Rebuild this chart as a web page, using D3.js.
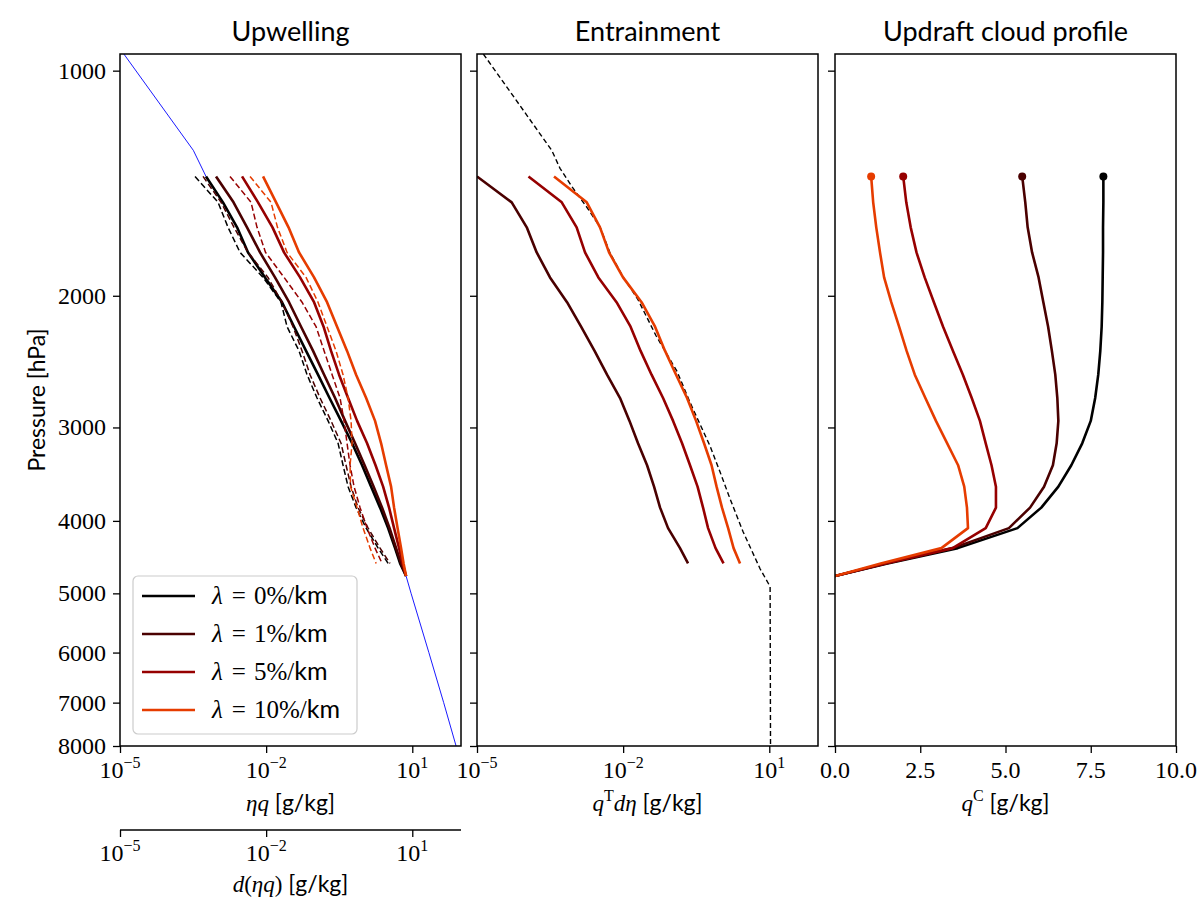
<!DOCTYPE html>
<html>
<head>
<meta charset="utf-8">
<script src="https://cdn.jsdelivr.net/npm/d3@7"></script>
<style>
  body { margin: 0; background: #fff; }
  text { white-space: pre; }
</style>
</head>
<body>
<svg id="chart" width="1200" height="900"></svg>
<script>
// ---- data ----
// pressure levels [hPa] of the profiles
const pLevels = [1385, 1500, 1620, 1750, 1890, 2040, 2200, 2370, 2550, 2740, 2940, 3150, 3370, 3600, 3840, 4090, 4350, 4560, 4740];
// levels of the dashed / entrainment profiles (stop one level higher)
const pDashed = [1385, 1500, 1620, 1750, 1890, 2040, 2200, 2370, 2550, 2740, 2940, 3150, 3370, 3600, 3840, 4090, 4350, 4560];

const lambdas = ["0", "1", "5", "10"];
const colors = ["#000000", "#4a0000", "#960000", "#e63c00"];

// Upwelling: eta*q [g/kg], solid lines
const up0 = [5.83e-4, 1.30e-3, 2.53e-3, 4.25e-3, 9.49e-3, 0.0212, 0.0374, 0.0660, 0.116, 0.200, 0.345, 0.581, 0.932, 1.43, 2.18, 3.19, 4.43, 5.62, 7.46];
const up1 = [9.36e-4, 2.14e-3, 4.05e-3, 7.50e-3, 0.0152, 0.0295, 0.0521, 0.0919, 0.155, 0.260, 0.417, 0.669, 1.05, 1.61, 2.40, 3.42, 4.65, 5.89, 7.46];
const up5 = [3.20e-3, 6.82e-3, 0.0135, 0.0233, 0.0497, 0.0963, 0.151, 0.215, 0.314, 0.481, 0.736, 1.18, 1.76, 2.52, 3.34, 4.23, 5.36, 6.32, 7.46];
const up10 = [8.64e-3, 0.0160, 0.0288, 0.0474, 0.0963, 0.178, 0.286, 0.458, 0.702, 1.13, 1.72, 2.29, 2.90, 3.67, 4.23, 4.99, 5.89, 6.63, 7.46];

// Upwelling: d(eta*q) [g/kg], dashed lines
const dUp0 = [3.47e-4, 1.03e-3, 1.65e-3, 2.91e-3, 8.64e-3, 0.0202, 0.0269, 0.0474, 0.0692, 0.111, 0.187, 0.300, 0.379, 0.481, 0.702, 1.13, 1.99, 3.19];
const dUp1 = [5.06e-4, 1.19e-3, 2.19e-3, 4.25e-3, 0.0109, 0.0212, 0.0357, 0.0546, 0.0797, 0.128, 0.215, 0.345, 0.437, 0.554, 0.771, 1.24, 2.18, 3.50];
const dUp5 = [1.81e-3, 4.90e-3, 6.50e-3, 9.72e-3, 0.0233, 0.0546, 0.106, 0.155, 0.226, 0.329, 0.398, 0.458, 0.528, 0.638, 0.848, 1.18, 1.72, 2.40];
const dUp10 = [4.67e-3, 0.0126, 0.0171, 0.0269, 0.0660, 0.116, 0.178, 0.272, 0.379, 0.481, 0.554, 0.581, 0.528, 0.541, 0.736, 0.977, 1.36, 1.81];

// background (blue) profile
const bgP = [950, 1278, 1385, 1500, 1620, 1750, 1890, 2040, 2200, 2370, 2550, 2740, 2940, 3150, 3370, 3600, 3840, 4090, 4350, 4560, 4740, 5000, 6000, 7000, 8000];
const bgQ = [1.2e-5, 3.20e-4, 5.83e-4, 1.30e-3, 2.53e-3, 4.25e-3, 9.49e-3, 0.0212, 0.0374, 0.0660, 0.116, 0.200, 0.345, 0.581, 0.932, 1.43, 2.18, 3.19, 4.43, 5.62, 7.46, 9.45, 21.9, 44.1, 79.3];

// Entrainment: q^T d(eta) [g/kg]
const ent1 = [1.0e-5, 5.16e-5, 1.05e-4, 1.68e-4, 3.15e-4, 7.05e-4, 1.37e-3, 2.59e-3, 4.67e-3, 8.64e-3, 0.0135, 0.0202, 0.0310, 0.0431, 0.0573, 0.0836, 0.147, 0.215];
const ent5 = [1.14e-4, 5.49e-4, 1.11e-3, 1.65e-3, 3.10e-3, 7.32e-3, 0.0142, 0.0228, 0.0383, 0.0660, 0.106, 0.162, 0.236, 0.337, 0.437, 0.554, 0.789, 1.15];
const ent10 = [3.81e-4, 1.79e-3, 3.35e-3, 5.13e-3, 9.95e-3, 0.0239, 0.0452, 0.0725, 0.122, 0.205, 0.314, 0.458, 0.653, 0.828, 1.07, 1.43, 1.85, 2.51];
// dashed reference profile in the entrainment panel
const entRefP = [950, 1278, 1351, 1436, 1522, 1618, 1753, 1887, 2024, 2262, 2525, 2777, 3178, 3441, 3739, 4137, 4635, 4897, 8000];
const entRefQ = [1.35e-5, 3.42e-4, 5.06e-4, 9.36e-4, 1.79e-3, 3.35e-3, 5.38e-3, 9.95e-3, 0.0202, 0.0474, 0.128, 0.236, 0.609, 0.977, 1.57, 2.90, 6.47, 10.4, 10.6];

// Updraft cloud profile: q^C [g/kg]
const cl0 = [7.87, 7.87, 7.86, 7.86, 7.85, 7.84, 7.82, 7.78, 7.72, 7.63, 7.50, 7.25, 6.93, 6.55, 6.05, 5.35, 3.60, 1.54, 0];
const cl1 = [5.49, 5.58, 5.65, 5.78, 5.97, 6.11, 6.25, 6.36, 6.46, 6.52, 6.55, 6.50, 6.39, 6.13, 5.72, 5.10, 3.45, 1.48, 0];
const cl5 = [2.00, 2.09, 2.22, 2.39, 2.63, 2.90, 3.17, 3.46, 3.75, 4.01, 4.25, 4.42, 4.59, 4.72, 4.72, 4.42, 3.45, 1.48, 0];
const cl10 = [1.06, 1.12, 1.21, 1.32, 1.44, 1.65, 1.88, 2.10, 2.34, 2.65, 2.96, 3.29, 3.61, 3.79, 3.87, 3.90, 3.12, 1.34, 0];

const pTicks = [1000, 2000, 3000, 4000, 5000, 6000, 7000, 8000];
const logTicks = [1e-5, 1e-2, 1e1];
const linTicks = [0, 2.5, 5, 7.5, 10];

// ---- layout ----
const svg = d3.select("#chart");
const serif = "'Liberation Serif', 'DejaVu Serif', serif";
const sans = "Lato, 'Open Sans', sans-serif";
const plotTop = 54, plotBottom = 746;

const y = d3.scaleLog().domain([950, 8000]).range([plotTop, plotBottom]);
const x1 = d3.scaleLog().domain([1e-5, 1e2]).range([120, 461]);
const x2 = d3.scaleLog().domain([1e-5, 1e2]).range([477, 818]);
const x3 = d3.scaleLinear().domain([0, 10]).range([835, 1176]);

const defs = svg.append("defs");
[x1, x2, x3].forEach((xs, i) => {
  defs.append("clipPath").attr("id", "clip" + i)
    .append("rect")
    .attr("x", xs.range()[0]).attr("y", plotTop)
    .attr("width", xs.range()[1] - xs.range()[0])
    .attr("height", plotBottom - plotTop);
});

function drawLine(g, xs, vals, ps, color, width, dash) {
  return g.append("path")
    .datum(d3.zip(vals, ps))
    .attr("d", d3.line().x(d => xs(d[0])).y(d => y(d[1])))
    .attr("fill", "none")
    .attr("stroke", color)
    .attr("stroke-width", width)
    .attr("stroke-dasharray", dash || null)
    .attr("stroke-linejoin", "round");
}

// writes "10^e" tick labels with a raised exponent
function powLabel(sel, v) {
  const e = Math.round(Math.log10(v));
  sel.append("tspan").text("10");
  sel.append("tspan").attr("dy", -10).attr("font-size", 16)
    .text(e < 0 ? "\u2212" + (-e) : String(e));
}

// mixed math/sans label: parts = [[text, kind, dx]], kind i=italic serif, r=serif, s=sans, sup=superscript
function mathLabel(sel, parts) {
  parts.forEach(([t, k, dx]) => {
    const ts = sel.append("tspan").text(t);
    if (k === "s" || k === "us") ts.attr("font-family", sans);
    else ts.attr("font-family", serif);
    if (k === "i" || k === "ui") ts.attr("font-style", "italic");
    if (k === "sup") ts.attr("dy", -10).attr("font-size", 16);
    if (k === "ui" || k === "us") ts.attr("dy", 10);
    if (dx) ts.attr("dx", dx);
  });
}

// ---- panel 1: upwelling ----
const g1 = svg.append("g").attr("clip-path", "url(#clip0)");
drawLine(g1, x1, bgQ, bgP, "#0000ff", 0.9);
const upSolid = [up0, up1, up5, up10];
const upDashed = [dUp0, dUp1, dUp5, dUp10];
upSolid.forEach((vals, i) => {
  drawLine(g1, x1, vals, pLevels, colors[i], 2.6);
  drawLine(g1, x1, upDashed[i], pDashed, colors[i], 1.5, "6,3");
});

// ---- panel 2: entrainment ----
const g2 = svg.append("g").attr("clip-path", "url(#clip1)");
drawLine(g2, x2, entRefQ, entRefP, "#000000", 1.4, "5,3");
[ent1, ent5, ent10].forEach((vals, i) => {
  drawLine(g2, x2, vals, pDashed, colors[i + 1], 2.6);
});

// ---- panel 3: updraft cloud profile ----
const g3 = svg.append("g").attr("clip-path", "url(#clip2)");
[cl0, cl1, cl5, cl10].forEach((vals, i) => {
  drawLine(g3, x3, vals, pLevels, colors[i], 2.6);
  g3.append("circle")
    .attr("cx", x3(vals[0])).attr("cy", y(pLevels[0]))
    .attr("r", 4).attr("fill", colors[i]);
});

// ---- axes ----
[x1, x2, x3].forEach((xs, i) => {
  const [a, b] = xs.range();
  // y ticks
  const ya = svg.append("g").attr("transform", `translate(${a},0)`)
    .call(d3.axisLeft(y).tickValues(pTicks).tickSize(7).tickSizeOuter(0).tickFormat(""));
  ya.select(".domain").remove();
  ya.selectAll("line").attr("stroke", "#000").attr("stroke-width", 1.3);

  // x ticks
  const xa = svg.append("g").attr("transform", `translate(0,${plotBottom})`)
    .call(d3.axisBottom(xs).tickValues(i < 2 ? logTicks : linTicks).tickSize(7).tickSizeOuter(0).tickFormat(""));
  xa.select(".domain").remove();
  xa.selectAll("line").attr("stroke", "#000").attr("stroke-width", 1.3);

  // frame
  svg.append("rect")
    .attr("x", a).attr("y", plotTop)
    .attr("width", b - a).attr("height", plotBottom - plotTop)
    .attr("fill", "none").attr("stroke", "#000").attr("stroke-width", 1.5);

  // x tick labels
  const ticks = i < 2 ? logTicks : linTicks;
  ticks.forEach(v => {
    const t = svg.append("text")
      .attr("x", xs(v)).attr("y", 778)
      .attr("text-anchor", "middle")
      .attr("font-family", serif).attr("font-size", 24).attr("fill", "#000");
    if (i < 2) powLabel(t, v);
    else t.text(v.toFixed(1));
  });
});

// y tick labels (first panel only)
pTicks.forEach(p => {
  svg.append("text")
    .attr("x", 106).attr("y", y(p) + 8)
    .attr("text-anchor", "end")
    .attr("font-family", serif).attr("font-size", 24).attr("fill", "#000")
    .text(p);
});

// secondary x axis under the first panel: d(eta q)
const xb = svg.append("g").attr("transform", "translate(0,830)")
  .call(d3.axisBottom(x1).tickValues(logTicks).tickSize(7).tickSizeOuter(0).tickFormat(""));
xb.select(".domain").attr("d", `M${x1.range()[0]},0H${x1.range()[1]}`).attr("stroke", "#000").attr("stroke-width", 1.5);
xb.selectAll("line").attr("stroke", "#000").attr("stroke-width", 1.3);
logTicks.forEach(v => {
  const t = svg.append("text")
    .attr("x", x1(v)).attr("y", 861)
    .attr("text-anchor", "middle")
    .attr("font-family", serif).attr("font-size", 24).attr("fill", "#000");
  powLabel(t, v);
});

// ---- titles and axis labels ----
const titles = ["Upwelling", "Entrainment", "Updraft cloud profile"];
[x1, x2, x3].forEach((xs, i) => {
  const cx = (xs.range()[0] + xs.range()[1]) / 2;
  svg.append("text")
    .attr("x", cx).attr("y", 41)
    .attr("text-anchor", "middle")
    .attr("font-family", sans).attr("font-size", 27).attr("fill", "#000")
    .text(titles[i]);
});

function axisLabel(x, yy, parts) {
  const t = svg.append("text")
    .attr("x", x).attr("y", yy)
    .attr("text-anchor", "middle")
    .attr("font-size", 23).attr("fill", "#000");
  mathLabel(t, parts);
  return t;
}
const c1 = (x1.range()[0] + x1.range()[1]) / 2;
const c2 = (x2.range()[0] + x2.range()[1]) / 2;
const c3 = (x3.range()[0] + x3.range()[1]) / 2;
axisLabel(c1, 811, [["\u03b7q", "i"], [" [g/kg]", "s"]]);
axisLabel(c2, 811, [["q", "i"], ["T", "sup"], ["d\u03b7", "ui"], [" [g/kg]", "s"]]);
axisLabel(c3, 811, [["q", "i"], ["C", "sup"], [" [g/kg]", "us"]]);
axisLabel(c1, 892, [["d", "i"], ["(", "r"], ["\u03b7q", "i"], [")", "r"], [" [g/kg]", "s"]]);

svg.append("text")
  .attr("transform", `translate(45,${(plotTop + plotBottom) / 2}) rotate(-90)`)
  .attr("text-anchor", "middle")
  .attr("font-family", sans).attr("font-size", 23).attr("fill", "#000")
  .text("Pressure [hPa]");

// ---- legend ----
const legend = svg.append("g").attr("transform", "translate(133,576)");
legend.append("rect")
  .attr("width", 224).attr("height", 158).attr("rx", 5)
  .attr("fill", "#fff").attr("fill-opacity", 0.8)
  .attr("stroke", "#cccccc").attr("stroke-width", 1.2);
lambdas.forEach((l, i) => {
  const ly = 20 + i * 38;
  legend.append("line")
    .attr("x1", 9).attr("x2", 62).attr("y1", ly).attr("y2", ly)
    .attr("stroke", colors[i]).attr("stroke-width", 2.6);
  const t = legend.append("text")
    .attr("x", 79).attr("y", ly + 8)
    .attr("font-size", 25).attr("fill", "#000");
  mathLabel(t, [["\u03bb", "i"], ["=", "r", 9], [l + "%/", "r", 8], ["km", "s"]]);
});
</script>
</body>
</html>
